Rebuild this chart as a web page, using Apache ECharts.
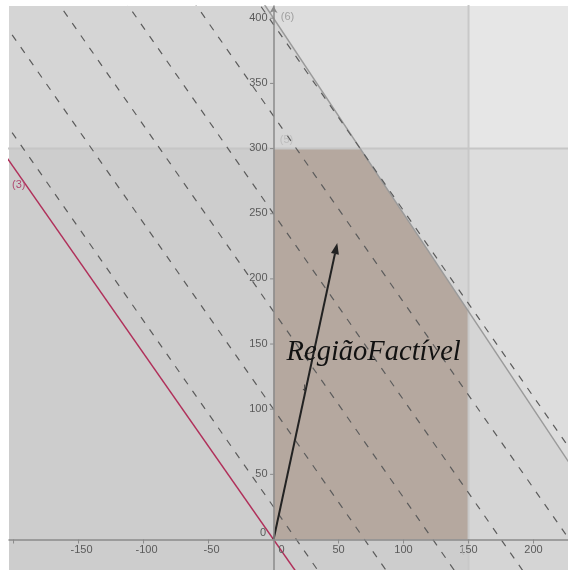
<!DOCTYPE html>
<html>
<head>
<meta charset="utf-8">
<script src="https://cdn.jsdelivr.net/npm/echarts@6/dist/echarts.min.js"></script>
<style>html,body{margin:0;padding:0;background:#fff}#c{width:568px;height:570px}</style>
</head>
<body>
<div id="c"></div>
<script>
// ---- data ----
const xTicks = [-200, -150, -100, -50, 50, 100, 150, 200];
const xTickLabels = ['', '-150', '-100', '-50', '50', '100', '150', '200'];
const yTicks = [50, 100, 150, 200, 250, 300, 350, 400];
const yTickLabels = ['50', '100', '150', '200', '250', '300', '350', '400'];
// constraints
const limitX = 150;            // (4) x <= 150
const limitY = 300;            // (5) y <= 300
const c6 = [3, 2, 800];        // (6) 3x + 2y <= 800
// objective 10x + 7y : red line (3) is level 0, dashed iso-lines at these levels
const objCoef = [10, 7];
const redLevel = 0;
const dashLevels = [175, 700, 1225, 1750, 2275, 2766.67];
// feasible region vertices
const feasible = [[0, 0], [150, 0], [150, 175], [66.67, 300], [0, 300]];
// gradient arrow
const arrowFrom = [0, 0];
const arrowTo = [49, 227.5];

const FAR = 320;
const regionX = [[-FAR, -FAR], [limitX, -FAR], [limitX, 2 * FAR], [-FAR, 2 * FAR]];
const regionY = [[-FAR, -FAR], [FAR, -FAR], [FAR, limitY], [-FAR, limitY]];
const region6 = [[-FAR, (c6[2] + c6[0] * FAR) / c6[1]], [-FAR, -FAR], [(c6[2] + c6[1] * FAR) / c6[0], -FAR]];

function lineFromEq(a, b, c) { // a x + b y = c
  return [[-FAR, (c + a * FAR) / b], [FAR, (c - a * FAR) / b]];
}

function polySeries(pts, fill, z) {
  return {
    type: 'custom', coordinateSystem: 'cartesian2d', clip: true, silent: true, z: z,
    data: [[0, 0]],
    renderItem: function (params, api) {
      return { type: 'polygon', shape: { points: pts.map(p => api.coord(p)) }, style: { fill: fill } };
    }
  };
}
function lineSeries(pts, style, z) {
  return {
    type: 'line', data: pts, showSymbol: false, symbol: 'none', silent: true, clip: true, z: z,
    lineStyle: style, animation: false
  };
}

const series = [];
series.push(polySeries(regionX, 'rgba(0,0,0,0.035)', 1));
series.push(polySeries(regionY, 'rgba(0,0,0,0.035)', 1));
series.push(polySeries(region6, 'rgba(0,0,0,0.035)', 1));
series.push(polySeries(feasible, '#b5a89f', 2));
// boundary lines (4) and (5)
series.push(lineSeries([[limitX, -FAR], [limitX, 2 * FAR]], { color: '#c8c8c8', width: 2 }, 3));
series.push(lineSeries([[-FAR, limitY], [FAR, limitY]], { color: '#c6c6c6', width: 2 }, 3));
// line (6)
series.push(lineSeries(lineFromEq(c6[0], c6[1], c6[2]), { color: '#9a9a9a', width: 1.5 }, 4));
// dashed iso-lines
dashLevels.forEach(L => {
  series.push(lineSeries(lineFromEq(objCoef[0], objCoef[1], L), { color: '#5c5c5c', width: 1.2, type: [7, 8] }, 5));
});
// red line (3)
series.push(lineSeries(lineFromEq(objCoef[0], objCoef[1], redLevel), { color: '#b0305a', width: 1.5 }, 6));

// arrow
series.push({
  type: 'custom', coordinateSystem: 'cartesian2d', clip: true, silent: true, z: 7,
  data: [[arrowTo[0], arrowTo[1]]],
  renderItem: function (params, api) {
    const p0 = api.coord(arrowFrom), p1 = api.coord(arrowTo);
    const dx = p1[0] - p0[0], dy = p1[1] - p0[1], len = Math.hypot(dx, dy);
    const ux = dx / len, uy = dy / len, L = 11, W = 4;
    const bx = p1[0] - ux * L, by = p1[1] - uy * L;
    return {
      type: 'group', children: [
        { type: 'line', shape: { x1: p0[0], y1: p0[1], x2: bx, y2: by }, style: { stroke: '#222', lineWidth: 2 } },
        { type: 'polygon', shape: { points: [[p1[0], p1[1]], [bx - uy * W, by + ux * W], [bx + uy * W, by - ux * W]] }, style: { fill: '#222' } }
      ]
    };
  }
});

// ticks & labels
series.push({
  type: 'custom', coordinateSystem: 'cartesian2d', clip: false, silent: true, z: 20,
  data: xTicks.map((v, i) => [v, 0, i]),
  renderItem: function (params, api) {
    const v = api.value(0), i = api.value(2);
    const p = api.coord([v, 0]);
    const lab = xTickLabels[i];
    return {
      type: 'group', children: [
        { type: 'line', shape: { x1: p[0], y1: p[1], x2: p[0], y2: p[1] + 4 }, style: { stroke: '#8a8a8a', lineWidth: 1 } },
        { type: 'text', style: { text: lab, x: p[0] + (v < 0 ? 3 : 0), y: p[1] + 10.5, align: 'center', verticalAlign: 'middle', fill: '#5a5a5a', font: '11px "Liberation Sans", Arial, sans-serif' } }
      ]
    };
  }
});
series.push({
  type: 'custom', coordinateSystem: 'cartesian2d', clip: false, silent: true, z: 20,
  data: yTicks.map((v, i) => [0, v, i]),
  renderItem: function (params, api) {
    const v = api.value(1), i = api.value(2);
    const p = api.coord([0, v]);
    return {
      type: 'group', children: [
        { type: 'line', shape: { x1: p[0] - 3.5, y1: p[1], x2: p[0], y2: p[1] }, style: { stroke: '#8a8a8a', lineWidth: 1 } },
        { type: 'text', style: { text: yTickLabels[i], x: p[0] - 6, y: p[1] - 0.5, align: 'right', verticalAlign: 'middle', fill: '#5a5a5a', font: '11px "Liberation Sans", Arial, sans-serif' } }
      ]
    };
  }
});
// origin labels, constraint labels, region text
const texts = [
  { at: [0, 0], text: '0', dx: 8, dy: 10.5, color: '#5a5a5a', font: '11px "Liberation Sans", Arial, sans-serif', align: 'center' },
  { at: [0, 0], text: '0', dx: -10.5, dy: -6.5, color: '#5a5a5a', font: '11px "Liberation Sans", Arial, sans-serif', align: 'center' },
  { at: [0, 400], text: '(6)', dx: 14, dy: -1.5, color: '#a0a0a0', font: '11px "Liberation Sans", Arial, sans-serif', align: 'center' },
  { at: [0, 300], text: '(5)', dx: 13, dy: -9, color: '#bdbdbd', font: '11px "Liberation Sans", Arial, sans-serif', align: 'center' },
  { at: [-196, 272], text: '(3)', dx: 0, dy: 0, color: '#b04a72', font: '11px "Liberation Sans", Arial, sans-serif', align: 'center' },
  { at: [150, 0], text: '(', dx: -6, dy: 10.5, color: '#bdbdbd', font: '11px "Liberation Sans", Arial, sans-serif', align: 'center' },
  { at: [24, 116], text: '↓', dx: 0, dy: 0, color: '#333', font: '9px "DejaVu Sans", sans-serif', align: 'center' },
  { at: [77, 143.5], text: 'RegiãoFactível', dx: 0, dy: 0, color: '#111', font: 'italic 28.5px "Liberation Serif", "DejaVu Serif", serif', align: 'center' }
];
series.push({
  type: 'custom', coordinateSystem: 'cartesian2d', clip: false, silent: true, z: 21,
  data: texts.map((t, i) => [t.at[0], t.at[1], i]),
  renderItem: function (params, api) {
    const t = texts[api.value(2)];
    const p = api.coord(t.at);
    return { type: 'text', style: { text: t.text, x: p[0] + t.dx, y: p[1] + t.dy, align: t.align, verticalAlign: 'middle', fill: t.color, font: t.font } };
  }
});

const chart = echarts.init(document.getElementById('c'), null, { renderer: 'canvas' });
chart.setOption({
  animation: false,
  backgroundColor: '#ffffff',
  grid: { left: 9, top: 6, right: 0, bottom: 0, show: true, backgroundColor: '#e6e6e6', borderWidth: 0, containLabel: false },
  xAxis: {
    type: 'value', min: -203.5, max: 226.5, z: 10,
    axisLine: { show: true, onZero: true, lineStyle: { color: '#8a8a8a', width: 1.5 } },
    axisTick: { show: false }, axisLabel: { show: false }, splitLine: { show: false }
  },
  yAxis: {
    type: 'value', min: -23.4, max: 409.4, z: 10,
    axisLine: { show: true, onZero: true, symbol: ['none', 'arrow'], symbolSize: [6, 7], lineStyle: { color: '#8a8a8a', width: 1.5 } },
    axisTick: { show: false }, axisLabel: { show: false }, splitLine: { show: false }
  },
  series: series
});
</script>
</body>
</html>
